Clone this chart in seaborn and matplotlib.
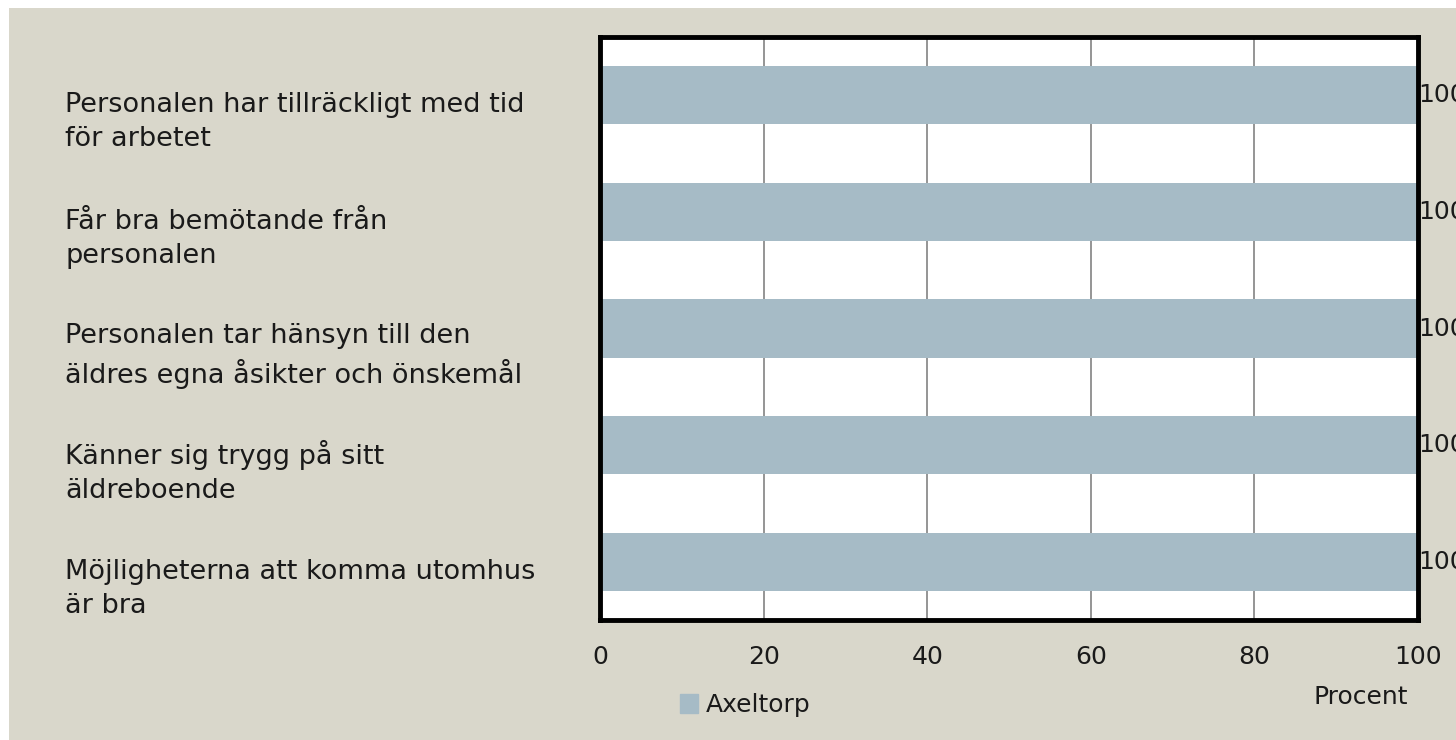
import numpy as np
import pandas as pd
import matplotlib
matplotlib.use("Agg")
import matplotlib.pyplot as plt
import matplotlib.transforms as mtransforms
import seaborn as sns

# data
kategorier = [
    "Personalen har tillräckligt med tid\nför arbetet",
    "Får bra bemötande från\npersonalen",
    "Personalen tar hänsyn till den\näldres egna åsikter och önskemål",
    "Känner sig trygg på sitt\näldreboende",
    "Möjligheterna att komma utomhus\när bra",
]
varden = [100, 100, 100, 100, 100]
serie = "Axeltorp"
x_ticks = [0, 20, 40, 60, 80, 100]

BG = "#d9d7cb"
BAR = "#a6bbc6"
FS = 18

sns.set_theme(style="white")
plt.rcParams["font.family"] = ["DejaVu Sans"]

df = pd.DataFrame({"Fraga": kategorier, "Procent": varden, "Enhet": serie})

fig = plt.figure(figsize=(14.56, 7.4), dpi=100, facecolor="white")
# beige panel with a thin white margin at top and left
fig.patches.append(plt.Rectangle((9 / 1456, 0), 1, 1 - 8 / 740, transform=fig.transFigure,
                                 facecolor=BG, edgecolor="none", zorder=-10))

ax = fig.add_axes([600 / 1456, 120 / 740, 818 / 1456, 583 / 740])
ax.set_facecolor("white")
sns.barplot(data=df, x="Procent", y="Fraga", hue="Enhet", palette=[BAR],
            orient="h", width=0.5, ax=ax, saturation=1, zorder=2, edgecolor="none")

ax.set_xlim(0, 100)
ax.set_ylim(4.5, -0.5)
ax.set_xticks(x_ticks)
ax.xaxis.grid(True, color="#8c8c8c", linewidth=1.3, zorder=1)
ax.set_axisbelow(True)

for s in ax.spines.values():
    s.set_color("black")
    s.set_linewidth(3.5)

ax.tick_params(axis="x", length=0, pad=18, labelsize=FS, labelcolor="#1a1a1a")
ax.tick_params(axis="y", length=0, pad=385, labelsize=19.5, labelcolor="#1a1a1a")
off = mtransforms.ScaledTranslation(0, -0.2, fig.dpi_scale_trans)
for lab in ax.get_yticklabels():
    lab.set_horizontalalignment("left")
    lab.set_linespacing(1.4)
    lab.set_transform(lab.get_transform() + off)

ax.set_ylabel("")
ax.set_xlabel("Procent", fontsize=FS, color="#1a1a1a")
ax.xaxis.set_label_coords(0.93, -0.112)

for cont in ax.containers:
    ax.bar_label(cont, labels=[str(v) for v in varden], padding=0, fontsize=FS,
                 color="#1a1a1a", clip_on=False)

leg = ax.legend(loc="center left", bbox_to_anchor=(0.085, -0.146), frameon=False,
                fontsize=FS, handlelength=0.75, handleheight=0.75, handletextpad=0.3,
                borderaxespad=0)
for h in leg.legend_handles:
    h.set_edgecolor(BAR)
for t in leg.get_texts():
    t.set_color("#1a1a1a")

fig.savefig("out.png", dpi=100, facecolor="white")
